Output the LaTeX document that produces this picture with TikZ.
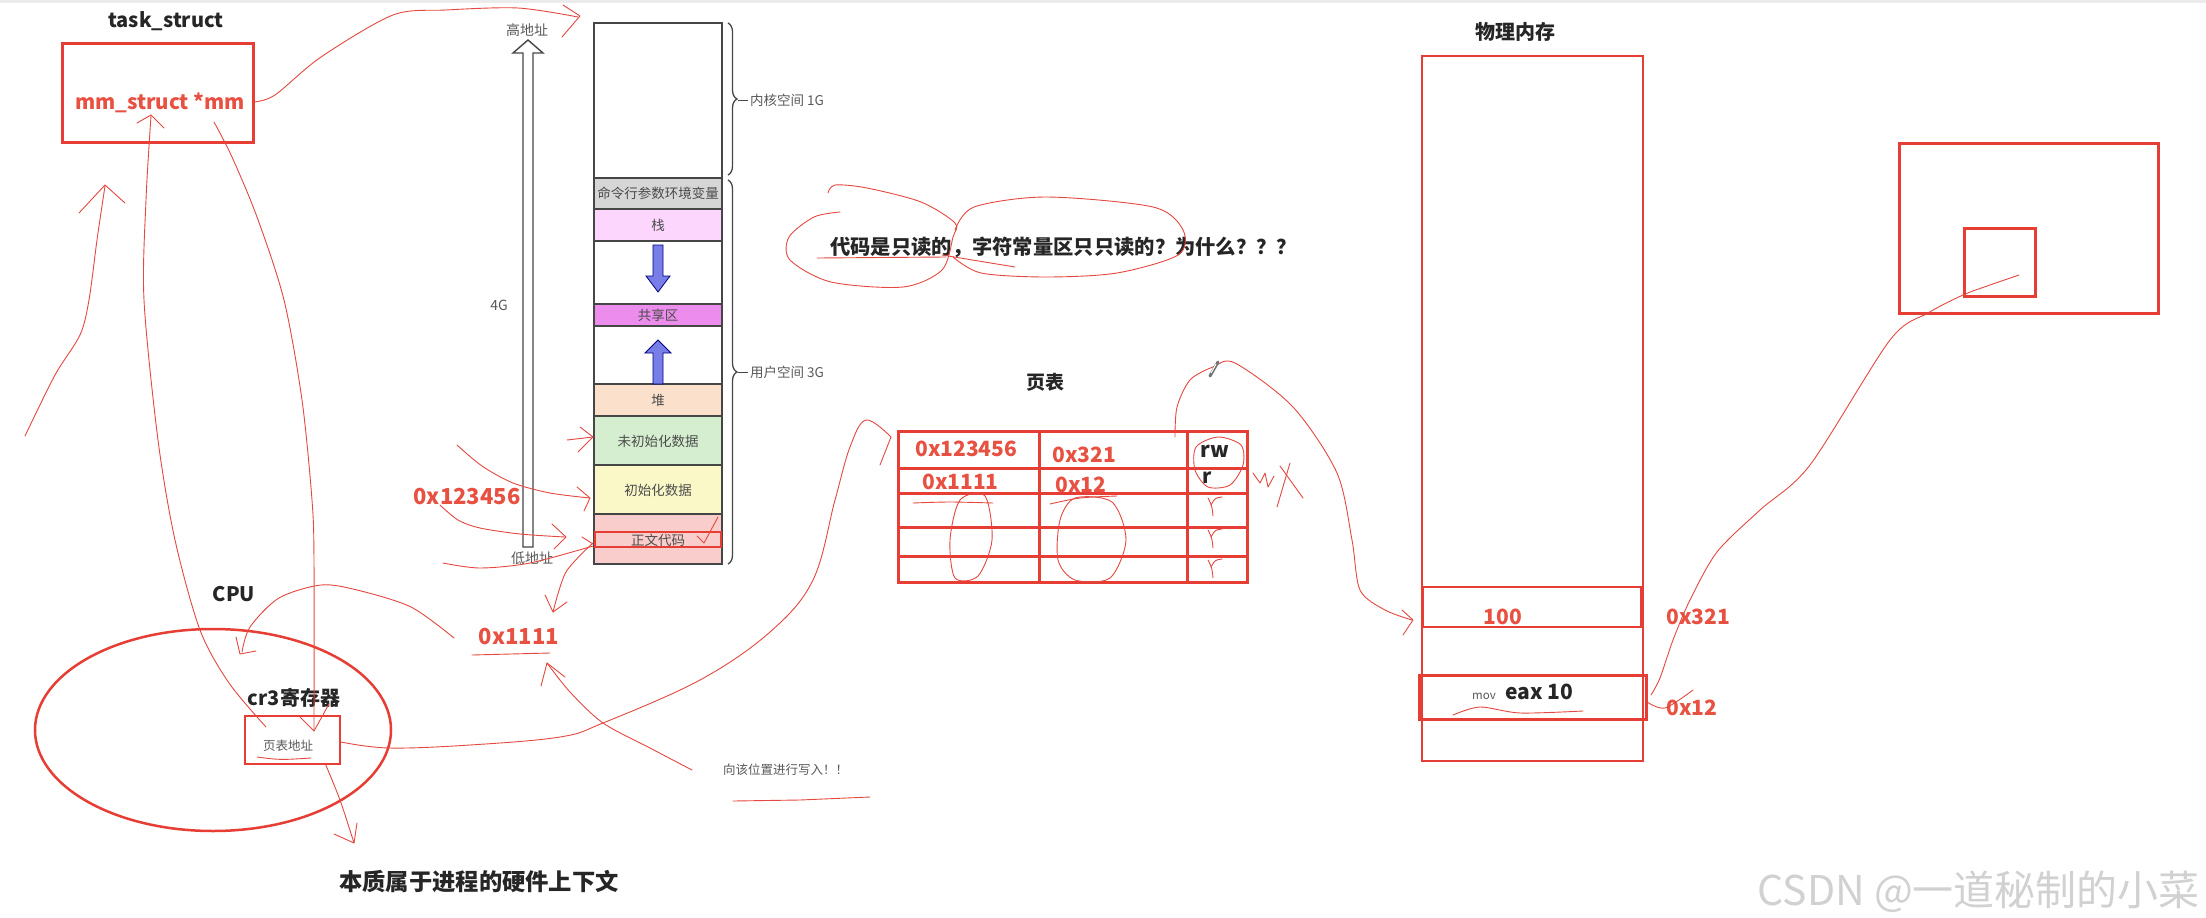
\documentclass[tikz,border=0pt]{standalone}
\usepackage{fontspec}
\setmainfont{Noto Sans CJK SC}
\usetikzlibrary{decorations.pathreplacing}
\definecolor{myred}{RGB}{230,62,52}
\definecolor{hred}{RGB}{228,72,64}
\definecolor{txtred}{RGB}{232,80,66}
\definecolor{colline}{RGB}{70,70,70}
\definecolor{cmdfill}{RGB}{214,214,214}
\definecolor{stackfill}{RGB}{253,214,253}
\definecolor{sharefill}{RGB}{236,140,236}
\definecolor{heapfill}{RGB}{251,225,204}
\definecolor{bssfill}{RGB}{212,238,207}
\definecolor{datafill}{RGB}{251,248,200}
\definecolor{textfill}{RGB}{249,205,203}
\definecolor{bluearrow}{RGB}{120,126,232}
\tikzset{
  redbox/.style={draw=myred, line width=3pt},
  lbl/.style={inner sep=0pt, text=black!85, font=\bfseries\fontsize{20}{24}\selectfont},
  rnum/.style={inner sep=0pt, text=txtred, font=\bfseries\fontsize{21}{24}\selectfont},
  memtxt/.style={inner sep=0pt, text=black!70, font=\fontsize{13.5}{15}\selectfont},
  smalltxt/.style={inner sep=0pt, text=black!65, font=\fontsize{13}{15}\selectfont},
  hand/.style={draw=hred, line width=0.9pt, line cap=round, line join=round},
  colbox/.style={draw=colline, line width=1.5pt},
}
\begin{document}
\begin{tikzpicture}[x=1pt,y=-1pt]
\useasboundingbox (0,0) rectangle (2206,918);
\fill[white] (0,0) rectangle (2206,918);
\fill[black!8] (0,0) rectangle (2206,3);

% ---------- task_struct ----------
\node[lbl] (ts) at (166,21) {task\_struct};
\draw[redbox] (62,43) rectangle (253,142);
\node[rnum, font=\bfseries\fontsize{20.5}{24}\selectfont] (mm) at (160,103) {mm\_struct *mm};

% ---------- address space column ----------
\node[smalltxt, font=\fontsize{14}{16}\selectfont] (hi) at (527,30) {高地址};
\node[smalltxt, font=\fontsize{14}{16}\selectfont] (g4) at (499,305) {4G};
\node[smalltxt, font=\fontsize{14}{16}\selectfont] (lo) at (532,558) {低地址};
\draw[colline, line width=1.4pt, fill=white] (523,547) -- (523,53) -- (513,53) -- (528,40) -- (543,53) -- (533,53) -- (533,547) -- cycle;

\fill[cmdfill] (594,178) rectangle (722,209);
\fill[stackfill] (594,209) rectangle (722,241);
\fill[sharefill] (594,304) rectangle (722,326);
\fill[heapfill] (594,384) rectangle (722,416);
\fill[bssfill] (594,416) rectangle (722,465);
\fill[datafill] (594,465) rectangle (722,514);
\fill[textfill] (594,514) rectangle (722,564);
\draw[colbox] (594,23) rectangle (722,564);
\foreach \yy in {178,209,241,304,326,384,416,465,514} \draw[colbox] (594,\yy) -- (722,\yy);
\draw[myred, line width=2.5pt] (595,532) rectangle (721,547);

\node[memtxt] (cmd) at (658,193) {命令行参数环境变量};
\node[memtxt] (stk) at (658,225) {栈};
\node[memtxt] (shr) at (658,315) {共享区};
\node[memtxt] (heap) at (658,400) {堆};
\node[memtxt] (bss) at (658,441) {未初始化数据};
\node[memtxt] (data) at (658,490) {初始化数据};
\node[memtxt] (code) at (658,540) {正文代码};

% blue arrows
\draw[fill=bluearrow, draw=blue!50!black, line width=0.8pt] (653,245) -- (663,245) -- (663,276) -- (670,276) -- (658,292) -- (646,276) -- (653,276) -- cycle;
\draw[fill=bluearrow, draw=blue!50!black, line width=0.8pt] (653,384) -- (663,384) -- (663,353) -- (671,353) -- (658,340) -- (645,353) -- (653,353) -- cycle;

% braces
\draw[colline, line width=1.3pt, decorate, decoration={brace, amplitude=9pt}] (728,23) -- (728,175);
\draw[colline, line width=1.3pt, decorate, decoration={brace, amplitude=9pt}] (728,180) -- (728,564);
\draw[colline, line width=1pt] (738,100) -- (748,100);
\draw[colline, line width=1pt] (738,372) -- (748,372);
\node[smalltxt, anchor=west, font=\fontsize{13.5}{15}\selectfont] (ks) at (750,100) {内核空间 1G};
\node[smalltxt, anchor=west, font=\fontsize{13.5}{15}\selectfont] (us) at (750,372) {用户空间 3G};

% ---------- labels on left ----------
\node[rnum, font=\bfseries\fontsize{22}{24}\selectfont] (a1) at (467,497) {0x123456};
\node[rnum, font=\bfseries\fontsize{22}{24}\selectfont] (a2) at (519,637) {0x1111};
\node[lbl] (cpu) at (234,594) {CPU};
\draw[myred, line width=2.5pt] (213,730) ellipse [x radius=178pt, y radius=101pt];
\node[lbl] (cr3) at (294,698) {cr3寄存器};
\draw[myred, line width=2.5pt] (245,716) rectangle (340,764);
\node[smalltxt, font=\fontsize{12.5}{14}\selectfont] (pta) at (288,746) {页表地址};
\node[lbl, anchor=west, font=\bfseries\fontsize{23.3}{26}\selectfont] (ctx) at (339,882) {本质属于进程的硬件上下文};
\node[smalltxt, anchor=west, font=\fontsize{12.5}{14}\selectfont] (wr) at (723,770) {向该位置进行写入！！};

% ---------- question ----------
\node[lbl, anchor=west, font=\bfseries\fontsize{20.3}{24}\selectfont] (q) at (830,247) {代码是只读的，字符常量区只只读的？为什么？？？};

% ---------- page table ----------
\node[lbl, font=\bfseries\fontsize{19}{22}\selectfont] (pt) at (1045,382) {页表};
\draw[redbox] (898,431) rectangle (1247,582);
\foreach \xx in {1039,1187} \draw[redbox] (\xx,431) -- (\xx,582);
\foreach \yy in {468,493,527,556} \draw[redbox] (898,\yy) -- (1247,\yy);
\node[rnum, anchor=west] (t1) at (915,449) {0x123456};
\node[rnum, anchor=west] (t2) at (1052,455) {0x321};
\node[lbl, anchor=west, font=\bfseries\fontsize{21}{24}\selectfont] (t3) at (1200,451) {rw};
\node[rnum, anchor=west] (t4) at (922,482) {0x1111};
\node[rnum, anchor=west] (t5) at (1055,485) {0x12};
\node[lbl, anchor=west] (t6) at (1202,478) {r};

% ---------- physical memory ----------
\node[lbl] (pm) at (1515,32) {物理内存};
\draw[myred, line width=2.5pt] (1422,56) rectangle (1643,761);
\draw[myred, line width=2.5pt] (1423,587) rectangle (1641,627);
\draw[myred, line width=3pt] (1419,675) rectangle (1646,719);
\node[rnum] (v100) at (1503,617) {100};
\node[smalltxt, anchor=west, font=\fontsize{11.5}{13}\selectfont] (mov) at (1472,696) {mov};
\node[lbl, anchor=west, font=\bfseries\fontsize{21}{24}\selectfont] (eax) at (1505,692) {eax 10};
\node[rnum, anchor=west] (p321) at (1666,617) {0x321};
\node[rnum, anchor=west] (p12) at (1666,708) {0x12};

% ---------- right figure ----------
\draw[redbox] (1899,143) rectangle (2158,313);
\draw[redbox] (1964,228) rectangle (2035,296);

% ---------- watermark ----------
\node[inner sep=0pt, anchor=east, text=black!18, font=\fontsize{41}{45}\selectfont] (csdn) at (2200,892) {CSDN @一道秘制的小菜};

% ---------- hand-drawn annotations ----------
% mm -> high address
\draw[hand] plot[smooth] coordinates {(254,102) (275,95) (321,57) (393,15) (446,10) (518,8) (578,17)};
\draw[hand] (563,5) -- (580,16) -- (562,37);
% cr3 -> mm (arrow up)
\draw[hand] plot[smooth] coordinates {(266,727) (229,683) (200,630) (175,540) (158,440) (144,300) (146,200) (151,116)};
\draw[hand] (137,123) -- (151,115) -- (164,128);
% mm -> cr3 (arrow down)
\draw[hand] plot[smooth] coordinates {(214,122) (232,157) (257,217) (284,300) (302,400) (312,500) (314,560) (314,731)};
\draw[hand] (300,717) -- (314,731) -- (329,704);
% lone arrow
\draw[hand] plot[smooth] coordinates {(25,436) (55,375) (80,335) (89,300) (97,240) (105,186)};
\draw[hand] (79,213) -- (105,185) -- (125,203);
% box -> context text
\draw[hand] plot[smooth] coordinates {(325,763) (340,800) (354,843)};
\draw[hand] (334,834) -- (354,843) -- (357,823);
% cr3 -> page table
\draw[hand] plot[smooth, tension=0.6] coordinates {(341,742) (389,748) (470,745) (560,737) (603,723) (700,680) (770,632) (813,580) (835,500) (850,447) (866,420) (891,437)};
\draw[hand] (891,437) -- (880,465);
% write -> 0x1111
\draw[hand] plot[smooth] coordinates {(692,770) (650,748) (603,723) (570,692) (547,663)};
\draw[hand] (541,686) -- (547,663) -- (565,677);
% 0x1111 -> CPU
\draw[hand] plot[smooth] coordinates {(454,638) (411,607) (357,590) (321,585) (279,598) (250,627) (242,652)};
\draw[hand] (236,637) -- (240,654) -- (256,651);
% to data
\draw[hand] plot[smooth] coordinates {(457,445) (482,466) (513,483) (550,493) (590,498)};
\draw[hand] (577,487) -- (590,498) -- (584,511);
% to low
\draw[hand] plot[smooth] coordinates {(440,505) (458,520) (480,528) (520,534) (565,537)};
\draw[hand] (552,524) -- (566,537) -- (554,549);
% to code
\draw[hand] plot[smooth] coordinates {(443,563) (480,568) (530,563) (593,546)};
\draw[hand] (582,537) -- (593,544);
% code -> down
\draw[hand] plot[smooth] coordinates {(593,543) (566,572) (553,612)};
\draw[hand] (545,595) -- (553,612) -- (567,602);
% to bss
\draw[hand] (567,440) -- (593,437);
\draw[hand] (580,427) -- (593,437) -- (578,452);
% check mark
\draw[hand] (697,536) -- (704,543) -- (718,517);
% underlines
\draw[hand] (472,655) -- (550,653);
\draw[hand] (257,757) .. controls (280,760) .. (311,758);
\draw[hand] (733,801) -- (800,800) -- (870,797);

% circles round the question
\draw[hand] plot[smooth] coordinates {(840,212) (814,217) (789,237) (790,260) (831,282) (903,287) (942,270) (953,237) (955,223) (921,202) (867,188) (835,185) (828,193)};
\draw[hand] plot[smooth] coordinates {(955,230) (974,207) (1046,197) (1153,207) (1183,230) (1178,255) (1117,273) (1046,277) (981,273) (953,257)};
\draw[hand] (817,258) -- (946,257);
\draw[hand] (942,255) -- (1015,267);

% page table scribbles
\draw[hand] plot[smooth] coordinates {(913,503) (950,502) (993,503)};
\draw[hand] plot[smooth cycle] coordinates {(985,496) (960,500) (950,540) (955,578) (978,576) (992,540)};
\draw[hand] plot[smooth] coordinates {(1050,504) (1080,498) (1117,496)};
\draw[hand] plot[smooth cycle] coordinates {(1075,498) (1060,520) (1058,560) (1075,580) (1110,578) (1126,540) (1112,502)};
\foreach \yy in {506,538,568} {
  \draw[hand] (1208,\yy-8) .. controls (1212,\yy) .. (1213,\yy+10);
  \draw[hand] (1211,\yy-1) .. controls (1215,\yy-8) .. (1222,\yy-9);
}
\draw[hand] plot[smooth cycle] coordinates {(1218,437) (1241,445) (1243,465) (1230,485) (1208,487) (1195,470) (1196,447)};
\draw[hand] (1253,473) -- (1260,483) -- (1265,473) -- (1268,487) -- (1274,476);
\draw[hand] (1280,466) -- (1303,498);
\draw[hand] (1290,463) -- (1277,507);

% page table -> physical memory (pen curve)
\draw[hand] plot[smooth] coordinates {(1175,437) (1177,407) (1190,380) (1213,367) (1235,363) (1293,407) (1337,473) (1352,540) (1360,590) (1385,610) (1412,620)};
\draw[hand] (1402,610) -- (1413,620) -- (1403,635);
\draw[black!55, line width=3pt, line cap=round] (1210,376) -- (1218,362);
\draw[white, line width=1pt] (1211,373) -- (1216,364);

% small square -> mov
\draw[hand] plot[smooth] coordinates {(2019,275) (1990,285) (1963,295) (1928,313) (1890,340) (1810,465) (1760,510) (1717,552) (1690,600) (1673,640) (1660,678) (1651,695)};
\draw[hand] plot[smooth] coordinates {(1647,702) (1665,708) (1693,690)};
\draw[hand] plot[smooth] coordinates {(1453,715) (1480,707) (1520,713) (1583,711)};
\end{tikzpicture}
\end{document}
